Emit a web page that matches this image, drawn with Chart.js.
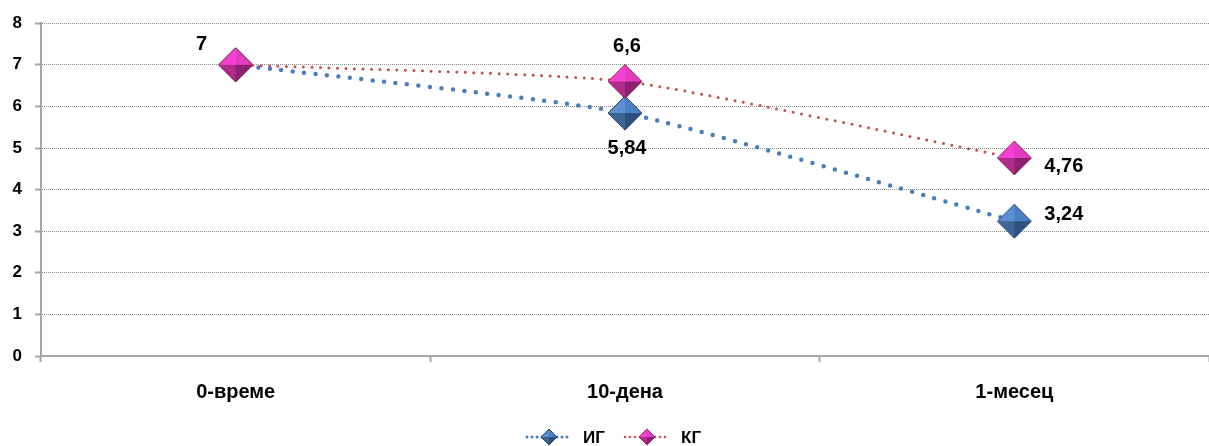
<!DOCTYPE html>
<html>
<head>
<meta charset="utf-8">
<script src="https://cdn.jsdelivr.net/npm/chart.js@4/dist/chart.umd.min.js"></script>
<style>
  html, body { margin: 0; padding: 0; background: #fff; }
  #wrap { width: 1209px; height: 446px; }
</style>
</head>
<body>
<div id="wrap"><canvas id="chart"></canvas></div>
<script>
'use strict';

// ── data ──
const categories = ['0-време', '10-дена', '1-месец'];
const seriesNames = ['ИГ', 'КГ'];
const igValues = [7, 5.84, 3.24];
const kgValues = [7, 6.6, 4.76];
const yTicks = [0, 1, 2, 3, 4, 5, 6, 7, 8];

const FONT = 'Liberation Sans, Arial, sans-serif';

// label placement per point: [dx, dy, align]
const igLabelPos = [null, [2, 35, 'center'], [30, -7, 'left']];
const kgLabelPos = [[-34, -20, 'center'], [2, -35, 'center'], [30, 9, 'left']];

// shaded diamond marker drawn on a small canvas
function makeDiamond(r, c) {
    const cv = document.createElement('canvas');
    const s = Math.ceil(r * 2 + 2);
    cv.width = s; cv.height = s;
    const g = cv.getContext('2d');
    const m = s / 2;
    const tri = (ax, ay, bx, by, col) => {
        g.beginPath();
        g.moveTo(m, m); g.lineTo(ax, ay); g.lineTo(bx, by); g.closePath();
        g.fillStyle = col; g.fill();
    };
    tri(m - r, m, m, m - r, c.tl);
    tri(m, m - r, m + r, m, c.tr);
    tri(m + r, m, m, m + r, c.br);
    tri(m, m + r, m - r, m, c.bl);
    g.beginPath();
    g.moveTo(m - r, m); g.lineTo(m, m - r); g.lineTo(m + r, m); g.lineTo(m, m + r); g.closePath();
    g.strokeStyle = c.edge; g.lineWidth = 1; g.stroke();
    return cv;
}

const blueShade = { tl: '#5b8fd3', tr: '#4c80c2', br: '#2f507c', bl: '#3d6596', edge: '#2b4870' };
const pinkShade = { tl: '#f541d2', tr: '#e23cc2', br: '#8f2070', bl: '#b02b8c', edge: '#8a2a5e' };

const blueMark = makeDiamond(17, blueShade);
const pinkMark = makeDiamond(17, pinkShade);
const blueSmall = makeDiamond(8, blueShade);
const pinkSmall = makeDiamond(8, pinkShade);

const series = [
    { name: seriesNames[0], values: igValues, color: '#4a7ebb', width: 4.5, gap: 11.5, mark: blueMark, small: blueSmall, pos: igLabelPos },
    { name: seriesNames[1], values: kgValues, color: '#c0504d', width: 3, gap: 8.5, mark: pinkMark, small: pinkSmall, pos: kgLabelPos }
];

const fmt = v => String(v).replace('.', ',');

// value labels next to the markers
const valueLabels = {
    id: 'valueLabels',
    afterDatasetsDraw(chart) {
        const ctx = chart.ctx;
        ctx.save();
        ctx.font = `bold 20px ${FONT}`;
        ctx.fillStyle = '#000';
        ctx.textBaseline = 'middle';
        chart.data.datasets.forEach((ds, di) => {
            const meta = chart.getDatasetMeta(di);
            meta.data.forEach((pt, i) => {
                const p = series[di].pos[i];
                if (!p) return;
                ctx.textAlign = p[2];
                ctx.fillText(fmt(ds.data[i]), pt.x + p[0], pt.y + p[1]);
            });
        });
        ctx.restore();
    }
};

// bottom legend: dotted line + diamond + name
const lineLegend = {
    id: 'lineLegend',
    afterDraw(chart) {
        const ctx = chart.ctx;
        const y = 437;
        const items = [{ x: 527 }, { x: 625 }];
        ctx.save();
        items.forEach((it, i) => {
            const s = series[i];
            ctx.beginPath();
            ctx.moveTo(it.x, y);
            ctx.lineTo(it.x + 43, y);
            ctx.strokeStyle = s.color;
            ctx.lineWidth = i === 0 ? 3 : 2.5;
            ctx.lineCap = 'round';
            ctx.setLineDash([0, 5]);
            ctx.stroke();
            ctx.setLineDash([]);
            const w = s.small.width;
            ctx.drawImage(s.small, it.x + 22 - w / 2, y - w / 2);
            ctx.font = `bold 17px ${FONT}`;
            ctx.fillStyle = '#000';
            ctx.textAlign = 'left';
            ctx.textBaseline = 'middle';
            ctx.fillText(s.name, it.x + 56, y + 1);
        });
        ctx.restore();
    }
};

new Chart(document.getElementById('chart'), {
    type: 'line',
    data: {
        labels: categories,
        datasets: series.map((s, i) => ({
            label: s.name,
            data: s.values,
            borderColor: s.color,
            borderWidth: s.width,
            borderDash: [0, s.gap],
            borderCapStyle: 'round',
            tension: 0.18,
            fill: false,
            pointStyle: s.mark,
            pointRadius: 16,
            order: series.length - i
        }))
    },
    options: {
        responsive: true,
        maintainAspectRatio: false,
        animation: false,
        layout: { autoPadding: false, padding: { top: 18, right: 0, bottom: 0, left: 0 } },
        plugins: {
            legend: { display: false },
            tooltip: { enabled: false }
        },
        scales: {
            x: {
                offset: true,
                grid: {
                    offset: true,
                    drawOnChartArea: false,
                    drawTicks: true,
                    tickLength: 6,
                    tickColor: '#a6a6a6',
                    tickWidth: 2
                },
                border: { color: '#a6a6a6', width: 2 },
                ticks: {
                    color: '#000',
                    font: { family: FONT, size: 20, weight: 'bold' },
                    padding: 18,
                    maxRotation: 0
                },
                afterFit(scale) {
                    scale.height = 90;
                    scale.paddingLeft = 0;
                    scale.paddingRight = 0;
                }
            },
            y: {
                min: 0,
                max: 8,
                afterBuildTicks(scale) { scale.ticks = yTicks.map(v => ({ value: v })); },
                grid: {
                    color: '#8c8c8c',
                    lineWidth: 1,
                    tickLength: 6,
                    tickColor: '#a6a6a6',
                    tickWidth: 2
                },
                border: { color: '#a6a6a6', width: 2, dash: [1, 1] },
                ticks: {
                    color: '#000',
                    font: { family: FONT, size: 17, weight: 'bold' },
                    padding: 13
                },
                afterFit(scale) { scale.width = 41; }
            }
        }
    },
    plugins: [valueLabels, lineLegend]
});
</script>
</body>
</html>
